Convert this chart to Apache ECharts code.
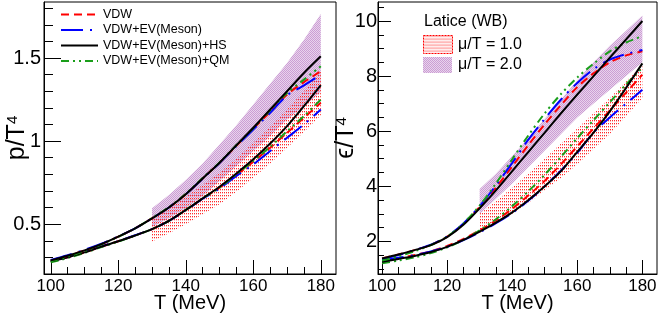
<!DOCTYPE html>
<html><head><meta charset="utf-8">
<script src="https://cdn.jsdelivr.net/npm/echarts@6/dist/echarts.min.js"></script>
<style>html,body{margin:0;padding:0;background:#fff}#c{width:664px;height:319px}</style>
</head><body><div id="c"></div>
<script>
// ---------- data ----------
const T = [100,105,110,115,120,125,130,135,140,145,150,155,160,165,170,175,180];
const bandT = [130,135,140,145,150,155,160,165,170,175,180];

// p/T^4, mu/T = 1.0
const p_VDW_mu1 = [0.275,0.300,0.330,0.365,0.397,0.432,0.470,0.520,0.585,0.655,0.720,0.795,0.875,0.960,1.050,1.140,1.230];
const p_EV_mu1  = [0.278,0.302,0.332,0.366,0.398,0.433,0.470,0.520,0.584,0.653,0.715,0.790,0.860,0.940,1.020,1.100,1.190];
const p_HS_mu1  = [0.275,0.300,0.330,0.365,0.397,0.432,0.470,0.520,0.585,0.655,0.725,0.805,0.890,0.985,1.090,1.210,1.337];
const p_QM_mu1  = [0.270,0.296,0.327,0.362,0.395,0.431,0.470,0.520,0.586,0.656,0.720,0.800,0.880,0.965,1.060,1.150,1.250];
// p/T^4, mu/T = 2.0
const p_VDW_mu2 = [0.282,0.310,0.342,0.380,0.425,0.475,0.535,0.600,0.680,0.775,0.870,0.972,1.075,1.175,1.280,1.355,1.420];
const p_EV_mu2  = [0.285,0.313,0.345,0.382,0.426,0.475,0.535,0.600,0.680,0.774,0.868,0.970,1.070,1.170,1.275,1.335,1.400];
const p_HS_mu2  = [0.282,0.310,0.342,0.380,0.425,0.475,0.535,0.600,0.680,0.775,0.870,0.975,1.080,1.190,1.300,1.410,1.510];
const p_QM_mu2  = [0.275,0.305,0.338,0.378,0.424,0.475,0.536,0.602,0.683,0.778,0.872,0.976,1.078,1.185,1.290,1.370,1.450];
// lattice bands p/T^4
const pLat1_lo = [0.395,0.445,0.500,0.560,0.620,0.695,0.780,0.865,0.960,1.055,1.155];
const pLat1_hi = [0.535,0.595,0.665,0.735,0.810,0.895,0.990,1.085,1.190,1.300,1.420];
const pLat2_lo = [0.485,0.535,0.595,0.670,0.760,0.850,0.940,1.030,1.130,1.210,1.295];
const pLat2_hi = [0.595,0.675,0.765,0.865,0.980,1.095,1.220,1.345,1.470,1.610,1.765];

// e/T^4, mu/T = 1.0
const e_VDW_mu1 = [1.28,1.38,1.50,1.64,1.83,2.09,2.40,2.76,3.18,3.67,4.20,4.80,5.45,6.10,6.75,7.40,8.05];
const e_EV_mu1  = [1.30,1.40,1.50,1.63,1.80,2.04,2.33,2.66,3.03,3.48,4.00,4.57,5.22,5.95,6.50,7.00,7.50];
const e_HS_mu1  = [1.26,1.36,1.47,1.61,1.80,2.05,2.35,2.68,3.05,3.50,4.00,4.55,5.25,5.95,6.72,7.57,8.46];
const e_QM_mu1  = [1.20,1.30,1.42,1.57,1.78,2.05,2.40,2.80,3.28,3.82,4.42,5.07,5.75,6.40,7.05,7.70,8.30];
// e/T^4, mu/T = 2.0
const e_VDW_mu2 = [1.38,1.52,1.68,1.87,2.17,2.63,3.25,3.95,4.72,5.50,6.25,6.95,7.60,8.10,8.50,8.75,8.90];
const e_EV_mu2  = [1.35,1.50,1.68,1.88,2.18,2.65,3.28,4.03,4.85,5.70,6.45,7.15,7.75,8.25,8.60,8.80,8.95];
const e_HS_mu2  = [1.38,1.52,1.68,1.86,2.15,2.60,3.20,3.85,4.55,5.25,5.95,6.65,7.33,8.00,8.67,9.33,10.00];
const e_QM_mu2  = [1.30,1.45,1.64,1.86,2.17,2.65,3.30,4.10,4.98,5.85,6.65,7.35,7.95,8.45,8.90,9.22,9.45];
// lattice bands e/T^4
const eLat1_lo = [2.30,2.65,3.00,3.40,3.85,4.30,4.80,5.35,5.90,6.55,7.20];
const eLat1_hi = [3.00,3.45,3.95,4.45,5.00,5.55,6.10,6.65,7.20,7.80,8.40];
const eLat2_lo = [3.00,3.55,4.10,4.70,5.30,5.90,6.50,7.00,7.50,8.00,8.50];
const eLat2_hi = [3.90,4.45,5.10,5.75,6.45,7.15,7.85,8.50,9.10,9.65,10.20];

// ticks
const xTickLabels = [100,120,140,160,180];
const xMinorTicks = [100,105,110,115,120,125,130,135,140,145,150,155,160,165,170,175,180];
const pTickLabels = [0.5,1,1.5];
const pMinorTicks = [0.3,0.4,0.5,0.6,0.7,0.8,0.9,1.0,1.1,1.2,1.3,1.4,1.5,1.6,1.7,1.8];
const eTickLabels = [2,4,6,8,10];
const eMinorTicks = [1,1.5,2,2.5,3,3.5,4,4.5,5,5.5,6,6.5,7,7.5,8,8.5,9,9.5,10,10.5];

const modelNames = ['VDW','VDW+EV(Meson)','VDW+EV(Meson)+HS','VDW+EV(Meson)+QM'];

// ---------- styles ----------
const FONT = '"Liberation Sans", Arial, Helvetica, sans-serif';
function makeCanvas(w,h,draw){const c=document.createElement('canvas');c.width=w;c.height=h;draw(c.getContext('2d'));return c;}
const redPat = {image: makeCanvas(2,3,ctx=>{ctx.fillStyle='#ff2a2a';ctx.fillRect(0,0,1,1);ctx.fillStyle='rgba(255,120,120,0.5)';ctx.fillRect(0,1,1,1);}), repeat:'repeat'};
const purPat = {image: makeCanvas(2,2,ctx=>{ctx.fillStyle='#e8d4ec';ctx.fillRect(0,0,2,2);ctx.fillStyle='#cc9dd4';ctx.fillRect(0,0,1,1);ctx.fillRect(1,1,1,1);}), repeat:'repeat'};

const lineStyles = [
  {color:'#ff0000', width:2, type:[8,5]},
  {color:'#0000ff', width:2, type:[22,7,2,7]},
  {color:'#000000', width:2, type:'solid'},
  {color:'#1a9e1a', width:2, type:[8,4,2,4,2,4]}
];

function zip(xs, ys){return xs.map((x,i)=>[x,ys[i]]);}
function lineSeries(idx, values, axisIdx){
  return {type:'line', name:modelNames[idx], xAxisIndex:axisIdx, yAxisIndex:axisIdx,
    data:zip(T, values), showSymbol:false, symbol:'none', smooth:0.3,
    lineStyle:lineStyles[idx], itemStyle:{color:lineStyles[idx].color}, z:5, silent:true};
}
function bandSeries(lo, hi, pat, axisIdx, z){
  return {type:'custom', xAxisIndex:axisIdx, yAxisIndex:axisIdx, z:z, silent:true,
    data:[[bandT[0], lo[0]]],
    renderItem:function(params, api){
      const pts=[];
      for(let i=0;i<bandT.length;i++) pts.push(api.coord([bandT[i], hi[i]]));
      for(let i=bandT.length-1;i>=0;i--) pts.push(api.coord([bandT[i], lo[i]]));
      return {type:'polygon', shape:{points:pts}, style:{fill:pat, stroke:null}};
    }};
}

const grids = [
  {left:44, top:2, width:292, height:272, show:true, borderColor:'#000', borderWidth:1},
  {left:378, top:2, width:279, height:272, show:true, borderColor:'#000', borderWidth:1}
];
const xRanges = [[98,184.5],[98.75,184.5]];
const yRanges = [[0.2,1.837],[0.813,10.69]];

const xAxes=[], yAxes=[];
for(let g=0; g<2; g++){
  xAxes.push({type:'value', gridIndex:g, position:'bottom', min:xRanges[g][0], max:xRanges[g][1],
    axisLine:{show:true, onZero:false, lineStyle:{color:'#000', width:1}},
    axisTick:{show:true, inside:true, length:7, customValues:xMinorTicks, lineStyle:{color:'#000'}},
    axisLabel:{show:false}, splitLine:{show:false}});
  xAxes.push({type:'value', gridIndex:g, position:'bottom', offset:0, min:xRanges[g][0], max:xRanges[g][1],
    axisLine:{show:false, onZero:false},
    axisTick:{show:true, inside:true, length:14, customValues:xTickLabels, lineStyle:{color:'#000'}},
    axisLabel:{show:true, customValues:xTickLabels, fontSize:17, fontFamily:FONT, color:'#000', margin:4},
    splitLine:{show:false},
    name:'T (MeV)', nameLocation:'middle', nameGap:19, nameMoveOverlap:false,
    nameTextStyle:{fontSize:20, fontFamily:FONT, color:'#000'}});
}
const yMinor=[pMinorTicks,eMinorTicks], yMajor=[pTickLabels,eTickLabels];
const yLen=[[9,17],[6,13]], yMargin=[3,1];
const yNames=['{a|p/T}{b|4}','{a|ϵ/T}{b|4}'], yGaps=[14,19];
for(let g=0; g<2; g++){
  yAxes.push({type:'value', gridIndex:g, position:'left', min:yRanges[g][0], max:yRanges[g][1],
    axisLine:{show:true, onZero:false, lineStyle:{color:'#000', width:1}},
    axisTick:{show:true, inside:true, length:yLen[g][0], customValues:yMinor[g], lineStyle:{color:'#000'}},
    axisLabel:{show:false}, splitLine:{show:false}});
  yAxes.push({type:'value', gridIndex:g, position:'left', offset:0, min:yRanges[g][0], max:yRanges[g][1],
    axisLine:{show:false, onZero:false},
    axisTick:{show:true, inside:true, length:yLen[g][1], customValues:yMajor[g], lineStyle:{color:'#000'}},
    axisLabel:{show:true, customValues:yMajor[g], fontSize:20, fontFamily:FONT, color:'#000', margin:yMargin[g]},
    splitLine:{show:false},
    name:yNames[g], nameLocation:'middle', nameGap:yGaps[g], nameRotate:90, nameMoveOverlap:false,
    nameTextStyle:{fontFamily:FONT, color:'#000',
      rich:{a:{fontSize:25, fontFamily:FONT, color:'#000'}, b:{fontSize:15, fontFamily:FONT, color:'#000', verticalAlign:'top', lineHeight:15}}}});
}

const series = [
  bandSeries(pLat2_lo, pLat2_hi, purPat, 0, 1),
  bandSeries(pLat1_lo, pLat1_hi, redPat, 0, 2),
  bandSeries(eLat2_lo, eLat2_hi, purPat, 2, 1),
  bandSeries(eLat1_lo, eLat1_hi, redPat, 2, 2),
  lineSeries(0, p_VDW_mu1, 0), lineSeries(1, p_EV_mu1, 0), lineSeries(3, p_QM_mu1, 0), lineSeries(2, p_HS_mu1, 0),
  lineSeries(0, p_VDW_mu2, 0), lineSeries(1, p_EV_mu2, 0), lineSeries(3, p_QM_mu2, 0), lineSeries(2, p_HS_mu2, 0),
  lineSeries(0, e_VDW_mu1, 2), lineSeries(1, e_EV_mu1, 2), lineSeries(3, e_QM_mu1, 2), lineSeries(2, e_HS_mu1, 2),
  lineSeries(0, e_VDW_mu2, 2), lineSeries(1, e_EV_mu2, 2), lineSeries(3, e_QM_mu2, 2), lineSeries(2, e_HS_mu2, 2)
];

const chart = echarts.init(document.getElementById('c'), null, {renderer:'canvas'});
chart.setOption({
  animation:false,
  backgroundColor:'#fff',
  grid:grids, xAxis:xAxes, yAxis:yAxes, series:series,
  legend:{data:modelNames, orient:'vertical', left:55, top:3, itemWidth:37, itemHeight:14, itemGap:2.5,
    selectedMode:false, itemStyle:{opacity:0}, textStyle:{fontSize:12.5, fontFamily:FONT, color:'#000'}},
  graphic:[
    {type:'text', left:424, top:14, style:{text:'Latice (WB)', font:'16px '+FONT, fill:'#000'}},
    {type:'rect', left:423, top:35, shape:{width:29, height:18}, style:{fill:redPat, stroke:'#ff0000', lineWidth:1, lineDash:[2,1]}},
    {type:'text', left:458, top:37, style:{text:'μ/T = 1.0', font:'16px '+FONT, fill:'#000'}},
    {type:'rect', left:423, top:57, shape:{width:29, height:16}, style:{fill:purPat}},
    {type:'text', left:458, top:57, style:{text:'μ/T = 2.0', font:'16px '+FONT, fill:'#000'}}
  ]
});
</script></body></html>
